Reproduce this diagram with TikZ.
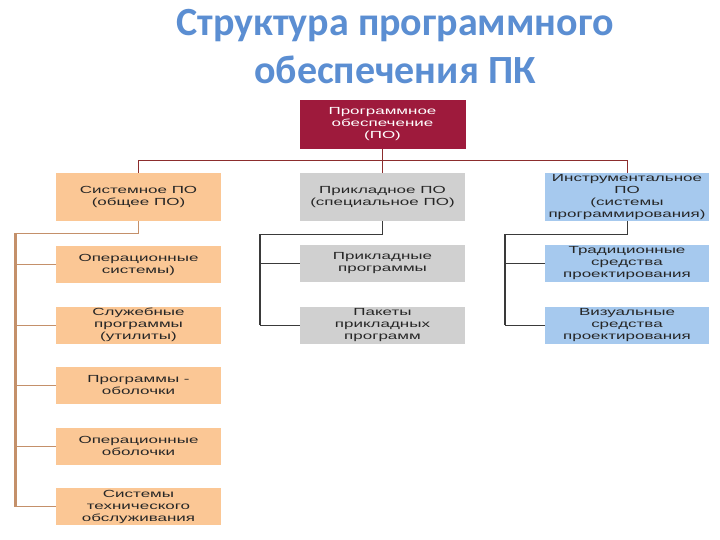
\documentclass[tikz,border=0pt]{standalone}
\usepackage{fontspec}
\setmainfont{Liberation Sans}
\newfontfamily\boxfont[FakeStretch=1.65]{Liberation Sans}
\newfontfamily\titlefont{Carlito}
\definecolor{titleblue}{HTML}{5B8ED2}
\definecolor{topred}{HTML}{9E1A3C}
\definecolor{peach}{HTML}{FBC795}
\definecolor{greybox}{HTML}{D0D0D0}
\definecolor{bluebox}{HTML}{A6C9EE}
\definecolor{busred}{HTML}{8C2D2D}
\definecolor{tan}{HTML}{C4906A}
\definecolor{darkline}{HTML}{3A3A3A}
\definecolor{boxtext}{HTML}{262626}
\begin{document}
\begin{tikzpicture}[x=1pt,y=-1pt,
  base/.style={inner sep=0pt, align=center, font=\boxfont\fontsize{10.3}{12}\selectfont, text=boxtext},
  topbox/.style={base, fill=topred, text=white, minimum width=166pt, minimum height=49pt},
  orbox/.style={base, fill=peach, minimum width=165pt},
  grbox/.style={base, fill=greybox, minimum width=165pt},
  blbox/.style={base, fill=bluebox, minimum width=164pt},
  tallbox/.style={minimum height=48pt},
  lowbox/.style={minimum height=37pt},
  redline/.style={draw=busred, line width=0.9pt},
  tanline/.style={draw=tan, line width=0.9pt},
  tanbus/.style={draw=tan, line width=2.8pt},
  dline/.style={draw=darkline, line width=0.9pt},
  dbus/.style={draw=darkline, line width=2.4pt},
  titlestyle/.style={inner sep=0pt, text=titleblue, font=\titlefont\bfseries\fontsize{40}{48}\selectfont, align=center}
]
\useasboundingbox (0,0) rectangle (720,540);
\fill[white] (0,0) rectangle (720,540);

\node[titlestyle] (title) at (395,47) {Структура программного\\обеспечения ПК};

\node[topbox] (po) at (382.5,124.5) {Программное\\обеспечение\\(ПО)};

\node[orbox, tallbox] (sys) at (138.5,197) {Системное ПО\\(общее ПО)};
\node[grbox, tallbox] (app) at (382.5,197) {Прикладное ПО\\(специальное ПО)};
\node[blbox, tallbox] (ins) at (627,197) {Инструментальное\\ПО\\(системы\\программирования)};

\node[orbox, lowbox] (s1) at (138.5,264.5) {Операционные\\системы)};
\node[orbox, lowbox] (s2) at (138.5,325) {Служебные\\программы\\(утилиты)};
\node[orbox, lowbox] (s3) at (138.5,385.5) {Программы -\\оболочки};
\node[orbox, lowbox] (s4) at (138.5,446) {Операционные\\оболочки};
\node[orbox, lowbox] (s5) at (138.5,506.5) {Системы\\технического\\обслуживания};

\node[grbox, lowbox] (a1) at (382.5,263.5) {Прикладные\\программы};
\node[grbox, lowbox] (a2) at (382.5,325) {Пакеты\\прикладных\\программ};

\node[blbox, lowbox] (i1) at (627,263.5) {Традиционные\\средства\\проектирования};
\node[blbox, lowbox] (i2) at (627,325) {Визуальные\\средства\\проектирования};

% top bus
\draw[redline] (sys.north) -- ++(0,-12) -| (ins.north);
\draw[redline] (po.south) -- (app.north);

% column 1
\coordinate (b1) at (15.5,233);
\draw[tanline] (sys.south) |- (b1);
\draw[tanbus] (b1) -- (b1 |- s5.west);
\foreach \n in {s1,s2,s3,s4,s5} \draw[tanline] (b1 |- \n.west) -- (\n.west);

% column 2
\coordinate (b2) at (260,234);
\draw[dline] (app.south) |- (b2);
\draw[dbus] (b2) -- (b2 |- a2.west);
\foreach \n in {a1,a2} \draw[dline] (b2 |- \n.west) -- (\n.west);

% column 3
\coordinate (b3) at (505,234);
\draw[dline] (ins.south) |- (b3);
\draw[dbus] (b3) -- (b3 |- i2.west);
\foreach \n in {i1,i2} \draw[dline] (b3 |- \n.west) -- (\n.west);
\end{tikzpicture}
\end{document}
